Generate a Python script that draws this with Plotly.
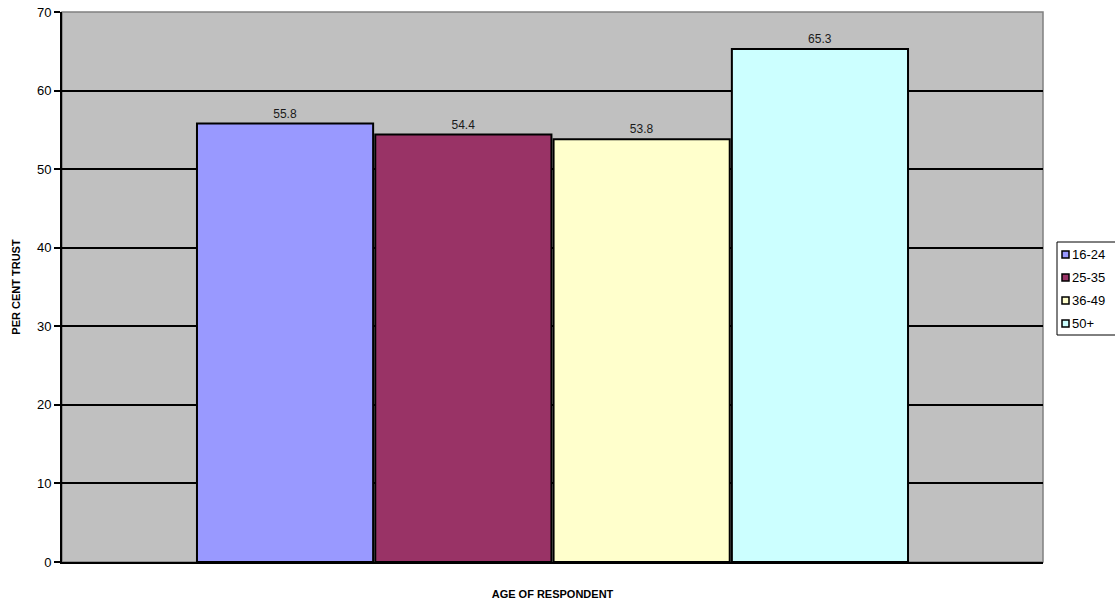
import plotly.graph_objects as go

categories = ["16-24", "25-35", "36-49", "50+"]
values = [55.8, 54.4, 53.8, 65.3]
colors = ["#9999FF", "#993366", "#FFFFCC", "#CCFFFF"]
y_ticks = [0, 10, 20, 30, 40, 50, 60, 70]

W, H = 1115, 603
L, R, T, B = 62, 72, 12, 41
PW, PH = W - L - R, H - T - B

def px_x(x):
    return (x - L) / PW

def px_y(y):
    return (H - B - y) / PH

fig = go.Figure()
for name, v, c in zip(categories, values, colors):
    fig.add_trace(go.Bar(
        x=[""], y=[v], name=name,
        marker=dict(color=c, line=dict(color="black", width=2)),
        text=[f"{v:.1f}"], textposition="outside",
        textfont=dict(family="Arial, Liberation Sans", size=12, color="#1a1a1a"),
        cliponaxis=False,
    ))

shapes = [
    dict(type="rect", xref="paper", yref="paper", x0=0, x1=1, y0=0, y1=1,
         line=dict(color="#808080", width=1.5), layer="below"),
    dict(type="rect", xref="paper", yref="paper",
         x0=px_x(1057), x1=px_x(1125), y0=px_y(335), y1=px_y(242),
         line=dict(color="black", width=1), fillcolor="white"),
]
annotations = []
row0, step = 254.5, 23
for i, (name, c) in enumerate(zip(categories, colors)):
    yc = row0 + i * step
    shapes.append(dict(type="rect", xref="paper", yref="paper",
                       x0=px_x(1062), x1=px_x(1069), y0=px_y(yc + 3.5), y1=px_y(yc - 3.5),
                       line=dict(color="black", width=1.5), fillcolor=c))
    annotations.append(dict(xref="paper", yref="paper", x=px_x(1069.5), y=px_y(yc),
                            xanchor="left", yanchor="middle", text=name, showarrow=False,
                            font=dict(family="Arial, Liberation Sans", size=13, color="black")))

fig.update_layout(
    width=W, height=H,
    margin=dict(l=L, r=R, t=T, b=B, autoexpand=False),
    paper_bgcolor="white", plot_bgcolor="#C0C0C0",
    barmode="group", bargap=0.273, bargroupgap=0.012,
    font=dict(family="Arial, Liberation Sans", size=12, color="black"),
    showlegend=False,
    shapes=shapes, annotations=annotations,
    xaxis=dict(showticklabels=False, showline=True, linecolor="black", linewidth=2,
               showgrid=False, zeroline=False,
               title=dict(text="<b>AGE OF RESPONDENT</b>", font=dict(size=11), standoff=27)),
    yaxis=dict(range=[0, 70], tickvals=y_ticks, showline=True, linecolor="black", linewidth=2,
               ticks="outside", ticklen=6, tickcolor="black", tickwidth=1.5, showgrid=True,
               gridcolor="black", gridwidth=1.5, zeroline=False,
               tickfont=dict(size=13),
               title=dict(text="<b>PER CENT TRUST</b>", font=dict(size=11), standoff=14)),
)
fig.write_html("out.html")
